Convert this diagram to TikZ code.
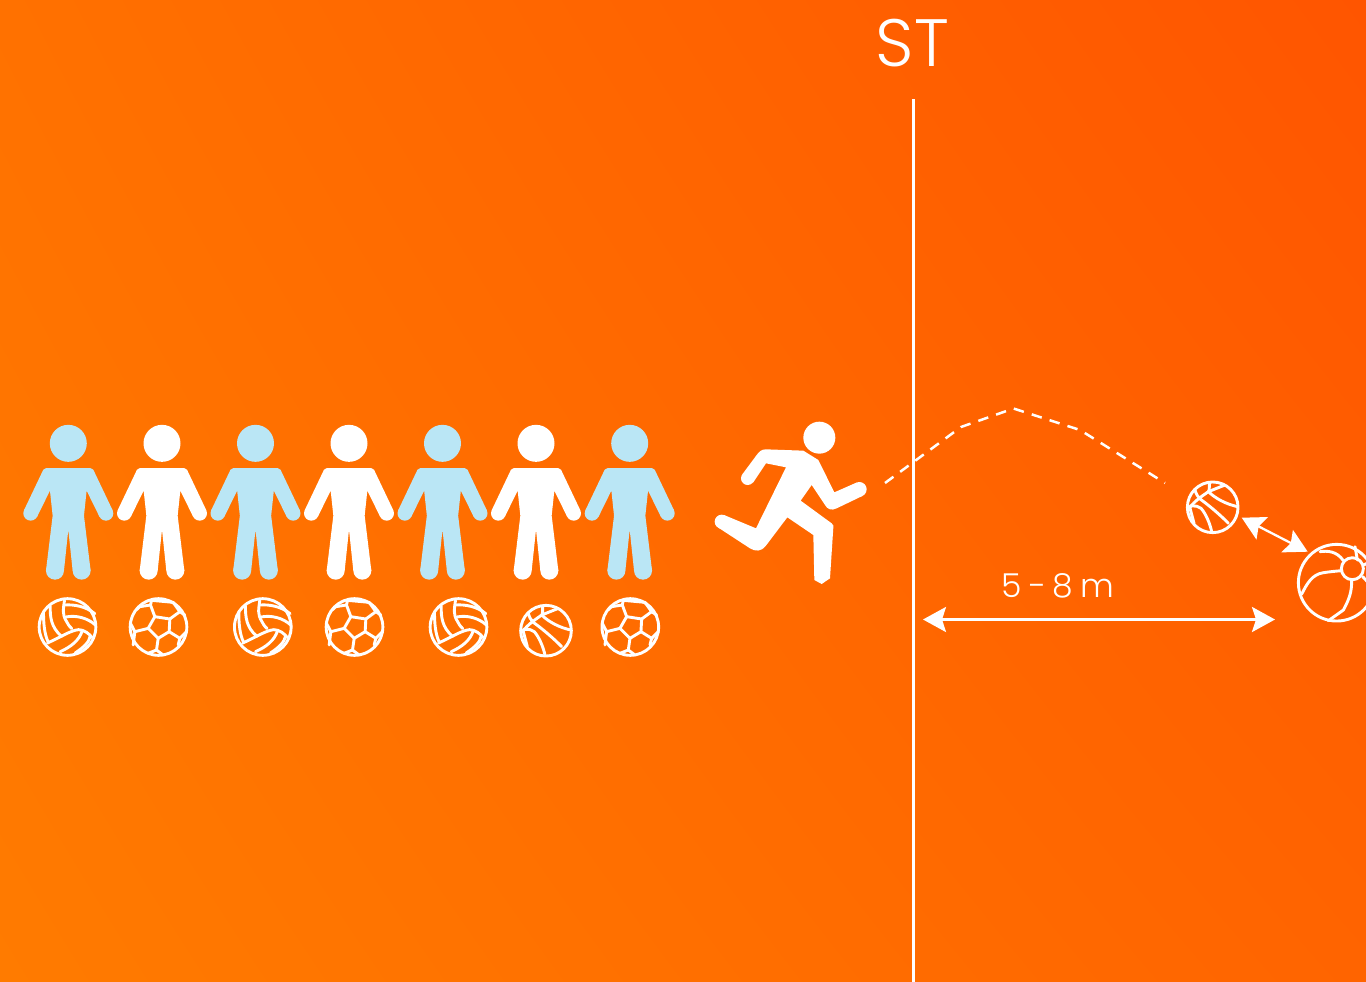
\documentclass[tikz,border=0pt]{standalone}
\usepackage{fontspec}
\setmainfont{Poppins}
\newfontfamily\thinfont[UprightFont=* Light]{Poppins}
\newfontfamily\thinspaced[UprightFont=* Light,WordSpace=0.75]{Poppins}
\usetikzlibrary{arrows.meta,shadings}
\definecolor{skyperson}{RGB}{186,230,245}
\definecolor{bgUL}{RGB}{255,113,0}
\definecolor{bgUR}{RGB}{255,85,0}
\definecolor{bgLL}{RGB}{255,123,0}
\definecolor{bgLR}{RGB}{255,100,0}
\tikzset{
  guide/.style={draw=white,line width=3pt},
  measure/.style={draw=white,line width=2.8pt,{Stealth[length=23pt,width=25pt,inset=4pt]}-{Stealth[length=23pt,width=25pt,inset=4pt]}},
  run path/.style={draw=white,line width=2.5pt,dash pattern=on 10.5pt off 8.3pt},
  ball line/.style={draw=white,line width=2.9pt,line join=round,line cap=round},
  pics/person/.style={code={
    \begin{scope}[scale=0.33333]
      \fill[#1] (0,-74) circle[radius=55.5];
      \fill[#1] (-66,0) -- (66,0) .. controls (71,0) and (73,2) .. (75,5) -- (132.6,126) -- (93.4,146) -- (55,68) -- (47,143) -- (67,308) -- (13,308) -- (0,185) -- (-13,308) -- (-67,308) -- (-47,143) -- (-55,68) -- (-93.4,146) -- (-132.6,126) -- (-75,5) .. controls (-73,2) and (-71,0) .. (-66,0) -- cycle;
      \fill[#1] (113,136) circle[radius=22] (-113,136) circle[radius=22];
      \fill[#1] (40,308) circle[radius=27] (-40,308) circle[radius=27];
    \end{scope}}},
  pics/volley/.style={code={
    \begin{scope}[scale=0.33333,ball line]
      \draw (0,0) circle[radius=85];
      \draw (-9,-80) .. controls (-12,-55) and (-18,-40) .. (-2,-15) .. controls (5,-2) and (8,0) .. (13,5);
      \draw (-8,-66) .. controls (20,-68) and (55,-62) .. (82,-40);
      \draw (-5,-30) .. controls (25,-36) and (60,-28) .. (85,-5);
      \draw (-52,-62) .. controls (-52,-30) and (-50,0) .. (-18,28);
      \draw (-72,-45) .. controls (-72,-15) and (-70,20) .. (-58,45);
      \draw (-60,48) .. controls (-20,30) and (10,10) .. (33,8) .. controls (50,8) and (65,20) .. (74,32);
      \draw (-22,74) .. controls (10,60) and (35,40) .. (44,12);
      \draw (23,78) .. controls (50,60) and (65,45) .. (68,28);
    \end{scope}}},
  pics/soccer/.style={code={
    \begin{scope}[scale=0.33333,ball line]
      \draw (0,0) circle[radius=85];
      \draw (-11,-31)--(34,-24)--(32,14)--(-1,34)--(-31,4)--cycle;
      \draw (-11,-31)--(-24,-66)--(-21,-80);
      \draw (-24,-66)--(-56,-61)--(-66,-52);
      \draw (-21,-80)--(44,-74)--(64,-46)--(34,-24);
      \draw (64,-46)--(79,-36);
      \draw (-31,4)--(-71,14)--(-84,-11);
      \draw (-71,14)--(-76,54);
      \draw (-1,34)--(-6,69)--(-31,79);
      \draw (-6,69)--(14,84);
      \draw (32,14)--(64,34)--(84,14);
      \draw (64,34)--(59,54);
    \end{scope}}},
  pics/basket/.style={code={
    \begin{scope}[scale=0.33333,ball line]
      \draw (0,0) circle[radius=76];
      \draw (-10,-72) .. controls (-10,-60) and (-10,-50) .. (-13,-47) .. controls (-25,-38) and (-55,-20) .. (-70,3);
      \draw (-13,-47) -- (37,-67);
      \draw (-13,-47) .. controls (10,-25) and (40,-10) .. (74,-2);
      \draw (-53,-52) .. controls (-50,-40) and (-45,-32) .. (-38,-25);
      \draw (-38,-25) .. controls (-10,-5) and (25,25) .. (47,48);
      \draw (-68,-4) .. controls (-50,-4) and (-42,-4) .. (-35,3) .. controls (-20,20) and (-8,50) .. (-3,73);
      \draw (-68,3) -- (-56,48);
    \end{scope}}},
  pics/beach/.style={code={
    \begin{scope}[scale=0.33333,ball line]
      \draw (0,0) circle[radius=115];
      \draw (47,-42) circle[radius=33];
      \draw (-105,34) .. controls (-90,5) and (-75,-25) .. (-40,-30) .. controls (-20,-33) and (0,-35) .. (15,-36);
      \draw (-50,-93) .. controls (-30,-96) and (0,-96) .. (20,-66);
      \draw (55,-108) -- (62,-68);
      \draw (45,-8) .. controls (45,25) and (40,45) .. (20,82) -- (-25,114);
      \draw (78,-18) -- (95,0);
      \draw (80,-53) -- (95,-60);
    \end{scope}}}
}
\begin{document}
\begin{tikzpicture}[x=1pt,y=-1pt]
\useasboundingbox (0,0) rectangle (1366,982);
\shade[shading=bilinear interpolation,upper left=bgUL,upper right=bgUR,lower left=bgLL,lower right=bgLR] (0,0) rectangle (1366,982);
\clip (0,0) rectangle (1366,982);

\coordinate (lineTop) at (913,99);
\coordinate (lineBottom) at (913,982);
\draw[guide] (lineTop) -- (lineBottom);
\node[text=white,inner sep=0pt,font=\thinfont\fontsize{67}{67}\selectfont] (stLabel) at (912.5,43) {ST};

\pic at (68.3,468) {person=skyperson};
\pic at (162,468) {person=white};
\pic at (255.5,468) {person=skyperson};
\pic at (349,468) {person=white};
\pic at (442.5,468) {person=skyperson};
\pic at (536,468) {person=white};
\pic at (629.7,468) {person=skyperson};

\pic at (67.5,627) {volley};
\pic at (158.5,627) {soccer};
\pic at (262.8,627) {volley};
\pic at (354.5,627) {soccer};
\pic at (458.5,627) {volley};
\pic at (546,630.7) {basket};
\pic at (630.3,627) {soccer};

% runner
\begin{scope}[shift={(700,410)},scale=0.33333]
  \fill[white] (358,83) circle[radius=48];
  \fill[white] (143,205) circle[radius=20] (478,238) circle[radius=22] (65,335) circle[radius=21];
  \fill[white] (127,193) -- (170,135) .. controls (178,124) and (185,118) .. (198,118) -- (310,122) -- (355,150) -- (403,247) -- (469,218) -- (487,258) -- (410,295) .. controls (395,303) and (382,298) .. (375,285) -- (335,225) -- (302,272) -- (395,340) .. controls (400,345) and (401,348) .. (400,352) -- (390,505) -- (365,522) -- (343,510) -- (340,375) -- (262,322) -- (197,408) .. controls (185,425) and (165,425) .. (150,415) -- (55,353) -- (72,315) -- (168,355) -- (258,172) -- (198,160) -- (160,217) -- cycle;
\end{scope}

% path of the run
\coordinate (runA) at (885,483);
\coordinate (runB) at (961,427);
\coordinate (runC) at (1013.5,408.5);
\coordinate (runD) at (1080,430);
\coordinate (runE) at (1165,483);
\draw[run path] (runA) -- (runB) -- (runC) -- (runD) -- (runE);

\pic at (1212.7,507.3) {basket};
\pic at (1336.7,582.7) {beach};

\coordinate (arrowA) at (1241.7,517.7);
\coordinate (arrowB) at (1307.7,551.7);
\draw[measure,line width=2.3pt] (arrowA) -- (arrowB);

\coordinate (spanA) at (923,619.5);
\coordinate (spanB) at (1275,619.5);
\draw[measure] (spanA) -- (spanB);
\node[text=white,inner sep=0pt,font=\thinspaced\fontsize{33}{33}\selectfont] (spanLabel) at (1058,585.5) {5 - 8 m};
\end{tikzpicture}
\end{document}
